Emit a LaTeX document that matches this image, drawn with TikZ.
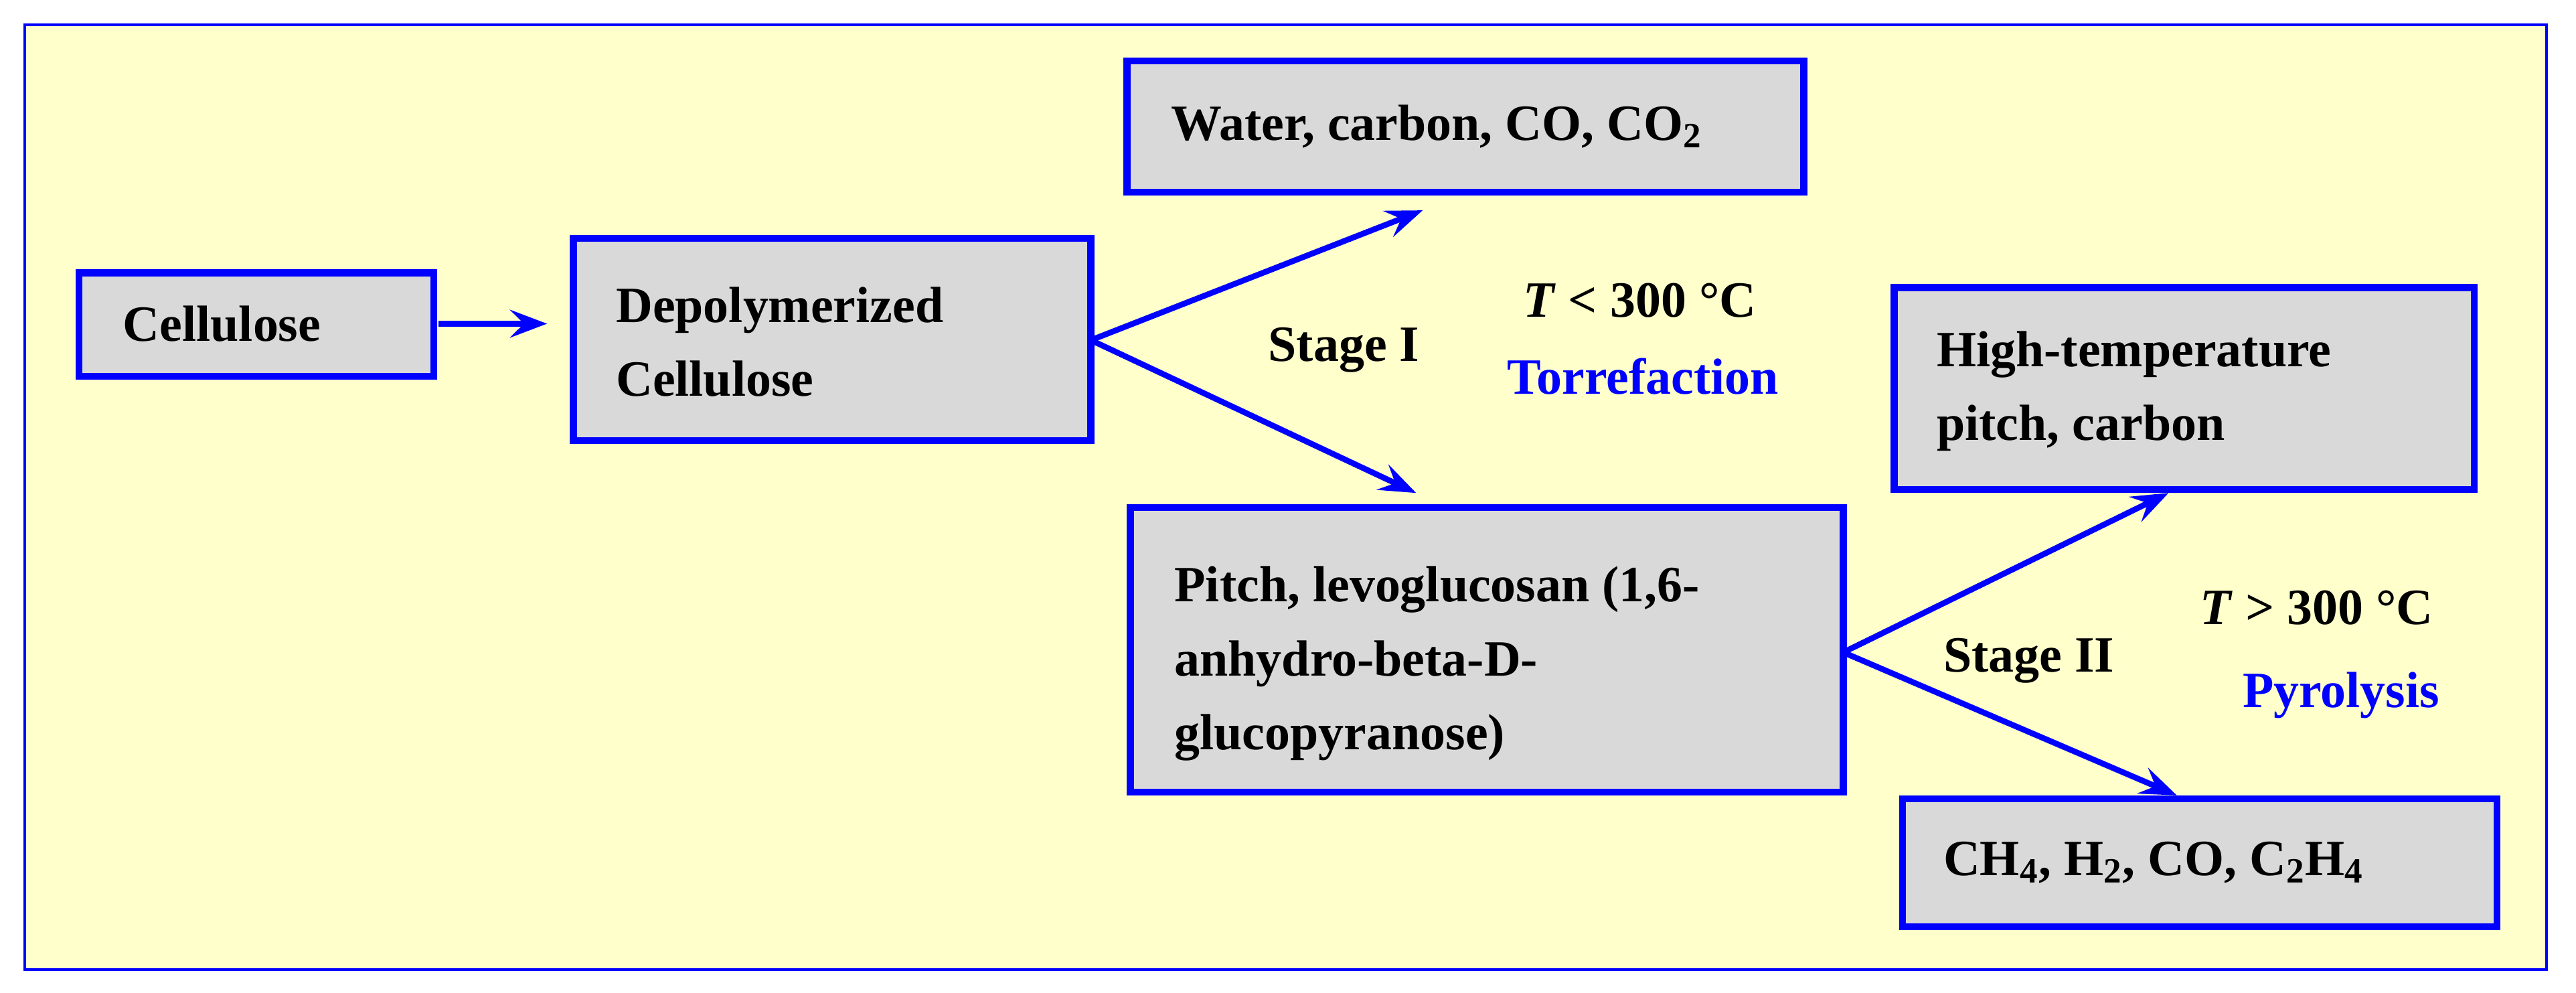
\documentclass[tikz,border=0pt]{standalone}
\usepackage{fontspec}
\setmainfont{Liberation Serif}
\usetikzlibrary{arrows.meta}
\definecolor{bg}{RGB}{255,255,204}
\definecolor{bx}{RGB}{217,217,217}
\begin{document}
\begin{tikzpicture}[x=0.025cm,y=-0.025cm,
  font=\fontsize{22}{32}\selectfont\bfseries,
  box/.style={draw=blue,fill=bx,line width=3pt},
  lbl/.style={anchor=west,align=left},
  arr/.style={draw=blue,line width=2.5pt,-{Stealth[length=16pt,width=12pt,inset=6pt]}}]
\useasboundingbox (0,0) rectangle (1568,604);
\draw[blue,fill=bg,line width=1.2pt] (15,15) rectangle (1550,590);
\draw[box] (48,166) rectangle (264,229);
\node[lbl] (cel) at (70,197) {Cellulose};
\draw[box] (349,145) rectangle (664,268);
\node[lbl] (dep) at (370,208) {Depolymerized\\Cellulose};
\draw[box] (686,37) rectangle (1098,117);
\node[lbl] (wat) at (708,77) {Water, carbon, CO, CO\textsubscript{2}};
\draw[box] (688,309) rectangle (1122,482);
\node[lbl] (pit) at (710,404) {Pitch, levoglucosan (1,6-\\anhydro-beta-D-\\glucopyranose)};
\draw[box] (1153,175) rectangle (1506,298);
\node[lbl] (hig) at (1174,238) {High-temperature\\pitch, carbon};
\draw[box] (1158,486) rectangle (1520,564);
\node[lbl] (ch) at (1178,525) {CH\textsubscript{4}, H\textsubscript{2}, CO, C\textsubscript{2}H\textsubscript{4}};
\coordinate (a1) at (267,197); \coordinate (a2) at (333,197);
\coordinate (d) at (664,207); \coordinate (dw) at (866,128); \coordinate (dp) at (862,300);
\coordinate (p) at (1122,397); \coordinate (ph) at (1320,300); \coordinate (pc) at (1325,484);
\draw[arr] (a1) -- (a2);
\draw[arr] (d) -- (dw);
\draw[arr] (d) -- (dp);
\draw[arr] (p) -- (ph);
\draw[arr] (p) -- (pc);
\node (s1) at (818,213) {Stage I};
\node (t1) at (998,183) {\textit{T} < 300 °C};
\node[text=blue] (to) at (1000,229) {Torrefaction};
\node (s2) at (1235,402) {Stage II};
\node (t2) at (1410,370) {\textit{T} > 300 °C};
\node[text=blue] (py) at (1425,423) {Pyrolysis};
\end{tikzpicture}
\end{document}
